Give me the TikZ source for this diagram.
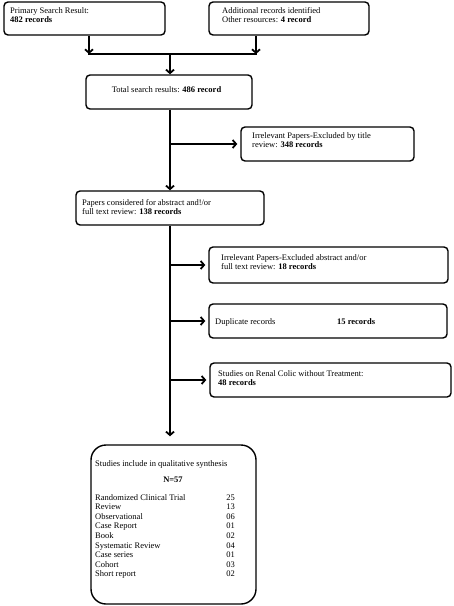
\documentclass[tikz,border=0pt]{standalone}
\usepackage{fontspec}
\setmainfont{Liberation Serif}
\usetikzlibrary{arrows.meta}
\begin{document}
\begin{tikzpicture}[x=1bp,y=-1bp,
  box/.style={draw, line width=1.4bp, rounded corners=4bp, inner sep=0pt},
  bigbox/.style={box, rounded corners=15bp},
  txt/.style={anchor=base west, inner sep=0pt, align=left, font=\fontsize{8.5bp}{9.6bp}\selectfont},
  conn/.style={line width=1.8bp},
  arr/.style={conn, -{Straight Barb[length=3.5bp,width=8bp]}}
]
\useasboundingbox (0,0) rectangle (454,606);
% boxes
\node[box, minimum width=161bp, minimum height=33bp] (b1) at (84.5,18.5) {};
\node[box, minimum width=160bp, minimum height=33bp] (b2) at (289,18.5) {};
\node[box, minimum width=166bp, minimum height=34bp] (b3) at (169,92) {};
\node[box, minimum width=173bp, minimum height=34bp] (bt) at (327.5,144) {};
\node[box, minimum width=188bp, minimum height=34bp] (b4) at (170,208) {};
\node[box, minimum width=239bp, minimum height=36bp] (b5) at (328.5,265) {};
\node[box, minimum width=238bp, minimum height=34bp] (b6) at (328,321) {};
\node[box, minimum width=241bp, minimum height=34bp] (b7) at (330.5,380) {};
\node[bigbox, minimum width=165bp, minimum height=159bp] (b8) at (173.5,524.5) {};
% texts (anchored at the baseline of their last line)
\node[txt] (t1) at (10,22.9) {Primary Search Result:\\\textbf{482 records}};
\node[txt] (t2) at (222,22.9) {Additional records identified\\Other resources: \textbf{4 record}};
\node[txt, anchor=base] (t3) at (166.5,92.8) {Total search results: \textbf{486 record}};
\node[txt] (tt) at (252,147.8) {Irrelevant Papers-Excluded by title\\review: \textbf{348 records}};
\node[txt] (t4) at (82,214.8) {Papers considered for abstract and!/or\\full text review: \textbf{138 records}};
\node[txt] (t5) at (221,269.8) {Irrelevant Papers-Excluded abstract and/or\\full text review: \textbf{18 records}};
\node[txt] (t6a) at (215,324.8) {Duplicate records};
\node[txt] (t6b) at (337,324.8) {\textbf{15 records}};
\node[txt] (t7) at (218,385.8) {Studies on Renal Colic without Treatment:\\\textbf{48 records}};
\node[txt] (t8) at (95,466.8) {Studies include in qualitative synthesis};
\node[txt, anchor=base] (t8n) at (173,482.8) {\textbf{N=57}};
\node[txt] (t8l) at (95,576.8) {Randomized Clinical Trial\\Review\\Observational\\Case Report\\Book\\Systematic Review\\Case series\\Cohort\\Short report};
\node[txt, anchor=base east, align=right] (t8r) at (235,576.8) {25\\13\\06\\01\\02\\04\\01\\03\\02};
% connectors
\coordinate (jl) at (89,54);
\coordinate (jr) at (256,54);
\coordinate (jm) at (170,54);
\draw[arr] (b1.south -| jl) -- (jl);
\draw[arr] (b2.south -| jr) -- (jr);
\draw[conn, line cap=rect] (jl) -- (jr);
\draw[arr] (jm) -- (jm |- b3.north);
\draw[arr] (b3.south -| jm) -- (jm |- b4.north);
\draw[arr, shorten >=3bp] (jm |- bt.west) -- (bt.west);
\draw[arr, shorten >=8bp] (b4.south) -- (b4.south |- b8.north);
\draw[arr, shorten >=3bp] (b4.south |- b5.west) -- (b5.west);
\draw[arr, shorten >=3bp] (b4.south |- b6.west) -- (b6.west);
\draw[arr, shorten >=3bp] (b4.south |- b7.west) -- (b7.west);
\end{tikzpicture}
\end{document}
